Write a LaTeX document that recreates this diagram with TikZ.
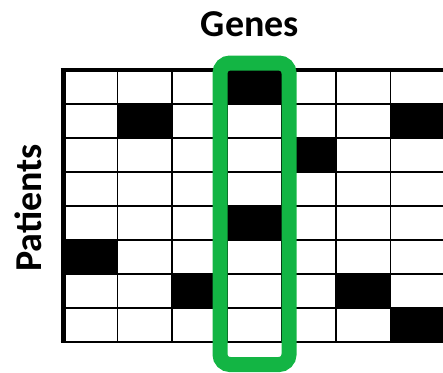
\documentclass[tikz,border=0pt]{standalone}
\usepackage{fontspec}
\setmainfont{Carlito}
\definecolor{selgreen}{RGB}{19,181,68}
\begin{document}
\begin{tikzpicture}[x=1pt,y=-1pt,
  cell/.style={fill=black},
  gridline/.style={line width=1.7pt,black},
  label/.style={font=\fontsize{38}{40}\selectfont\bfseries,inner sep=0pt,anchor=base},
  selbox/.style={draw=selgreen,line width=15pt,rounded corners=10pt}]
\useasboundingbox (0,0) rectangle (443,372);
\def\xo{63}\def\cw{54.6}\def\yo{70}\def\rh{34}
% black cells (col,row)
\foreach \c/\r in {3/0,1/1,6/1,4/2,3/4,0/5,2/6,5/6,6/7}{
  \fill (\xo+\c*\cw,\yo+\r*\rh) rectangle (\xo+\c*\cw+\cw,\yo+\r*\rh+\rh);
}
% grid
\foreach \r in {1,...,7}{
  \draw[gridline] (\xo,\yo+\r*\rh) -- (443,\yo+\r*\rh);
}
\foreach \c in {1,...,6}{
  \draw[gridline] (\xo+\c*\cw,\yo) -- (\xo+\c*\cw,\yo+8*\rh);
}
\draw[line width=4pt] (\xo-2.5,\yo) -- (443,\yo);
\draw[line width=2.7pt] (\xo-2.5,\yo+8*\rh) -- (443,\yo+8*\rh);
\draw[line width=5pt] (\xo,\yo-2) -- (\xo,\yo+8*\rh+1.3);
% selection
\draw[selbox] (220,63) rectangle (289,364.5);
% labels
\node[label] (genes) at (250,36) {Genes};
\node[label,rotate=90] (patients) at (41,208) {Patients};
\end{tikzpicture}
\end{document}
